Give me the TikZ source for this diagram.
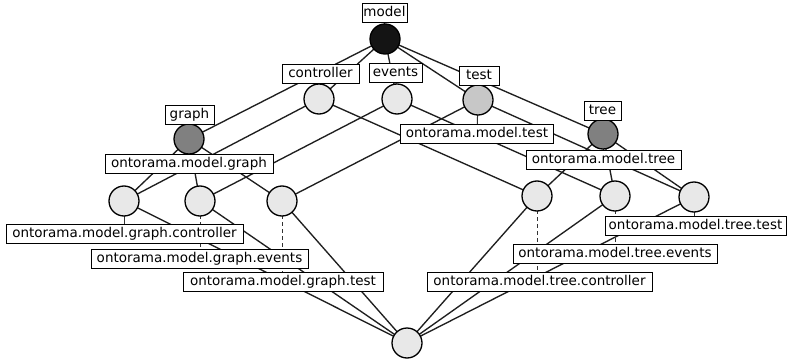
\documentclass[tikz,border=0pt]{standalone}
\usepackage{fontspec}
\setmainfont{DejaVu Sans}
\begin{document}
\begin{tikzpicture}[x=1pt,y=-1pt,
  concept/.style={circle,draw=black,line width=1.3pt,minimum size=30pt,inner sep=0pt},
  light/.style={concept,fill=black!9},
  medium/.style={concept,fill=black!22},
  dark/.style={concept,fill=black!50},
  topc/.style={concept,fill=black!92},
  lbl/.style={draw=black,line width=0.9pt,fill=white,inner xsep=1.5pt,inner ysep=3pt,
    text height=10pt,text depth=3pt,font=\fontsize{13.5}{15}\selectfont},
  edge/.style={line width=1.35pt,draw=black!88},
  tie/.style={line width=1pt,draw=black!80},
  tiedash/.style={tie,dash pattern=on 4pt off 3pt}]
\useasboundingbox (0,0) rectangle (787,361);

% concept positions
\coordinate (pM)  at (385,39);
\coordinate (pC)  at (319,99);
\coordinate (pE)  at (397,99);
\coordinate (pT)  at (478,100);
\coordinate (pG)  at (189,139);
\coordinate (pR)  at (603,134);
\coordinate (pGC) at (124,201);
\coordinate (pGE) at (200,201);
\coordinate (pGT) at (282,201);
\coordinate (pRC) at (537,196);
\coordinate (pRE) at (615,196);
\coordinate (pRT) at (694,197);
\coordinate (pB)  at (407,343);

% lattice edges
\foreach \a/\b in {pM/pC,pM/pE,pM/pT,pM/pG,pM/pR,
                   pC/pGC,pC/pRC,pE/pGE,pE/pRE,pT/pGT,pT/pRT,
                   pG/pGC,pG/pGE,pG/pGT,pR/pRC,pR/pRE,pR/pRT,
                   pGC/pB,pGE/pB,pGT/pB,pRC/pB,pRE/pB,pRT/pB}
  \draw[edge] (\a) -- (\b);

% label anchors
\coordinate (aM)  at (384.5,13);
\coordinate (aC)  at (320.5,74);
\coordinate (aE)  at (395.5,73);
\coordinate (aT)  at (479,75.5);
\coordinate (aG)  at (189.5,114.5);
\coordinate (aR)  at (602.5,110.5);
\coordinate (oG)  at (189,163.5);
\coordinate (oT)  at (477,134);
\coordinate (oR)  at (603.5,160);
\coordinate (oGC) at (124.5,234);
\coordinate (oGE) at (199.5,259);
\coordinate (oGT) at (283,282);
\coordinate (oRT) at (695.5,226);
\coordinate (oRE) at (615,254);
\coordinate (oRC) at (539.5,282);

% ties between concepts and their labels
\draw[tie] (pM) -- (aM);
\draw[tie] (pC) -- (aC);
\draw[tie] (pE) -- (aE);
\draw[tie] (pT) -- (aT);
\draw[tie] (pG) -- (aG);
\draw[tie] (pR) -- (aR);
\draw[tie] (pG) -- (oG);
\draw[tie] (pT) -- (oT);
\draw[tie] (pR) -- (oR);
\draw[tie] (pGC) -- (pGC |- oGC);
\draw[tiedash] (pGE) -- (pGE |- oGE);
\draw[tiedash] (pGT) -- (pGT |- oGT);
\draw[tie] (pRT) -- (pRT |- oRT);
\draw[tiedash] (pRE) -- (pRE |- oRE);
\draw[tiedash] (pRC) -- (pRC |- oRC);

% concepts
\node[topc]   (cM)  at (pM)  {};
\node[light]  (cC)  at (pC)  {};
\node[light]  (cE)  at (pE)  {};
\node[medium] (cT)  at (pT)  {};
\node[dark]   (cG)  at (pG)  {};
\node[dark]   (cR)  at (pR)  {};
\node[light]  (cGC) at (pGC) {};
\node[light]  (cGE) at (pGE) {};
\node[light]  (cGT) at (pGT) {};
\node[light]  (cRC) at (pRC) {};
\node[light]  (cRE) at (pRE) {};
\node[light]  (cRT) at (pRT) {};
\node[light]  (cB)  at (pB)  {};

% attribute labels
\node[lbl,minimum width=45pt] (lM) at (aM) {model};
\node[lbl,minimum width=77pt] (lC) at (aC) {controller};
\node[lbl,minimum width=53pt] (lE) at (aE) {events};
\node[lbl,minimum width=40pt] (lT) at (aT) {test};
\node[lbl,minimum width=49pt] (lG) at (aG) {graph};
\node[lbl,minimum width=37pt] (lR) at (aR) {tree};

% object labels
\node[lbl,minimum width=168pt] (lOG)  at (oG)  {ontorama.model.graph};
\node[lbl,minimum width=153pt] (lOT)  at (oT)  {ontorama.model.test};
\node[lbl,minimum width=155pt] (lOR)  at (oR)  {ontorama.model.tree};
\node[lbl,minimum width=237pt] (lOGC) at (oGC) {ontorama.model.graph.controller};
\node[lbl,minimum width=217pt] (lOGE) at (oGE) {ontorama.model.graph.events};
\node[lbl,minimum width=200pt] (lOGT) at (oGT) {ontorama.model.graph.test};
\node[lbl,minimum width=181pt] (lORT) at (oRT) {ontorama.model.tree.test};
\node[lbl,minimum width=204pt] (lORE) at (oRE) {ontorama.model.tree.events};
\node[lbl,minimum width=225pt] (lORC) at (oRC) {ontorama.model.tree.controller};
\end{tikzpicture}
\end{document}
